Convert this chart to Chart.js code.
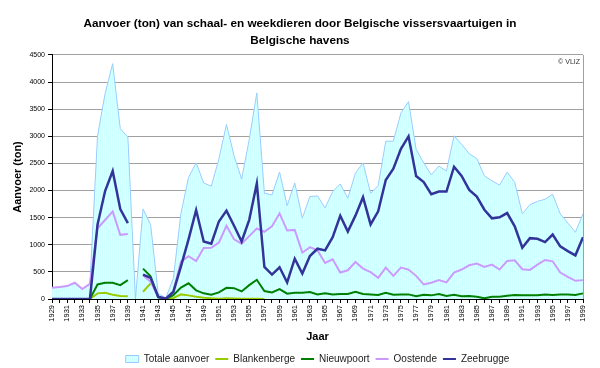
<!DOCTYPE html>
<html>
<head>
<meta charset="utf-8">
<script src="https://cdn.jsdelivr.net/npm/chart.js@4.4.1/dist/chart.umd.min.js"></script>
<style>
  html, body { margin: 0; padding: 0; background: #fff; }
  #wrap { width: 600px; height: 368px; }
</style>
</head>
<body>
<div id="wrap"><canvas id="chart" width="600" height="368"></canvas></div>
<script>
// Years 1929 - 1999
const years = [];
for (let y = 1929; y <= 1999; y++) years.push(String(y));

const totale = [
  207, 220, 238, 300, 183, 280, 3000, 3790, 4340, 3140, 2990, 0, 1660, 1370, 100, 20, 380, 1580, 2240, 2510,
  2140, 2080, 2580, 3220, 2640, 2210, 2940, 3800, 1950, 1920, 2340, 1720, 2140, 1490, 1890, 1900, 1680, 1980, 2120, 1860,
  2320, 2510, 1950, 2090, 2910, 2910, 3430, 3640, 2760, 2510, 2290, 2450, 2360, 3010, 2850, 2680, 2590, 2270, 2180, 2100,
  2340, 2150, 1570, 1740, 1800, 1840, 1930, 1570, 1400, 1230, 1570
];
const blankenberge = [
  null, null, null, null, null, 0, 104, 116, 79, 55, 49, null, 134, 287, null, 0, 20, 85, 67, 43,
  25, 12, 5, 15, 10, 5, 5, 3, 2, null, null, null, null, null, null, null, null, null, null, null,
  null, null, null, null, null, null, null, null, null, null, null, null, null, null, null, null, null, null, null, null,
  null, null, null, null, null, null, null, null, null, null, null
];
const nieuwpoort = [
  null, null, null, null, null, 0, 268, 299, 299, 256, 348, null, 560, 420, 30, 0, 70, 210, 290, 160,
  104, 80, 122, 207, 200, 140, 256, 354, 146, 122, 183, 98, 116, 116, 128, 85, 104, 85, 91, 91,
  134, 91, 85, 73, 116, 79, 85, 85, 49, 79, 67, 91, 55, 79, 49, 55, 43, 12, 43, 43,
  61, 73, 67, 67, 67, 85, 73, 85, 85, 73, 104
];
const oostende = [
  207, 220, 238, 300, 183, 280, 1305, 1457, 1616, 1183, 1200, null, 440, 317, 40, 10, 150, 690, 790, 700,
  940, 945, 1040, 1350, 1100, 1020, 1160, 1300, 1240, 1342, 1580, 1262, 1274, 854, 957, 896, 665, 732, 488, 530,
  683, 561, 495, 390, 579, 427, 579, 543, 427, 268, 299, 348, 305, 488, 543, 622, 652, 591, 634, 543,
  701, 713, 549, 537, 634, 720, 695, 488, 409, 335, 348
];
const zeebrugge = [
  0, 0, 0, 0, 0, 0, 1370, 1990, 2360, 1660, 1400, null, 450, 390, 40, 5, 130, 600, 1100, 1640,
  1060, 1020, 1430, 1630, 1350, 1060, 1460, 2130, 590, 450, 585, 305, 744, 470, 793, 927, 896, 1140, 1537, 1244,
  1537, 1878, 1375, 1616, 2195, 2402, 2768, 3000, 2268, 2158, 1933, 1982, 1982, 2439, 2268, 2012, 1890, 1646, 1488, 1506,
  1585, 1341, 945, 1122, 1110, 1049, 1189, 970, 884, 805, 1140
];

const FONT = "'Liberation Sans', Arial, sans-serif";

// striped light cyan fill like the old Excel area pattern
const pc = document.createElement('canvas');
pc.width = 2; pc.height = 1;
const pctx = pc.getContext('2d');
pctx.fillStyle = '#ccffff'; pctx.fillRect(0, 0, 2, 1);
pctx.fillStyle = '#e8ffff'; pctx.fillRect(1, 0, 1, 1);
const areaFill = pctx.createPattern(pc, 'repeat');

const plotFrame = {
  id: 'plotFrame',
  afterDraw(chart) {
    const { ctx, chartArea: a } = chart;
    ctx.save();
    ctx.strokeStyle = '#a0a0a0';
    ctx.lineWidth = 1;
    ctx.beginPath();
    ctx.moveTo(Math.round(a.right) + 0.5, a.top);
    ctx.lineTo(Math.round(a.right) + 0.5, a.bottom);
    ctx.stroke();
    ctx.fillStyle = '#333';
    ctx.font = '7px ' + FONT;
    ctx.textAlign = 'right';
    ctx.textBaseline = 'top';
    ctx.fillText('\u00A9 VLIZ', a.right - 3, a.top + 4);
    ctx.restore();
  }
};

const line = (label, data, color, width, order) => ({
  label, data, borderColor: color, backgroundColor: color, borderWidth: width,
  pointRadius: 0, tension: 0, fill: false, spanGaps: false, order,
});

new Chart(document.getElementById('chart'), {
  type: 'line',
  data: {
    labels: years,
    datasets: [
      { label: 'Totale aanvoer', data: totale, borderColor: '#99ccff', backgroundColor: areaFill,
        borderWidth: 1, pointRadius: 0, tension: 0, fill: 'origin', order: 5 },
      line('Blankenberge', blankenberge, '#99cc00', 2, 4),
      line('Nieuwpoort', nieuwpoort, '#008000', 2, 3),
      line('Oostende', oostende, '#cc99ff', 2, 2),
      line('Zeebrugge', zeebrugge, '#333399', 2.5, 1),
    ],
  },
  options: {
    responsive: false, animation: false, devicePixelRatio: 1,
    layout: { padding: { left: 0, right: 0, top: 0, bottom: -6 } },
    plugins: {
      title: {
        display: true,
        text: ['Aanvoer (ton) van schaal- en weekdieren door Belgische vissersvaartuigen in', 'Belgische havens'],
        color: '#000', font: { family: FONT, size: 11.75, weight: 'bold', lineHeight: 1.45 },
        padding: { top: 15.5, bottom: 5.4 },
      },
      legend: {
        position: 'bottom', fullSize: false,
        labels: {
          color: '#222', font: { family: FONT, size: 10 }, padding: 6,
          usePointStyle: true, pointStyleWidth: 13, boxHeight: 7,
          sort: (a, b) => a.datasetIndex - b.datasetIndex,
          generateLabels: chart => Chart.defaults.plugins.legend.labels.generateLabels(chart).map(l => {
            if (l.datasetIndex === 0) { l.pointStyle = 'rect'; l.lineWidth = 1; l.strokeStyle = '#99ccff'; }
            else { l.pointStyle = 'line'; l.lineWidth = 2; }
            return l;
          }),
        },
      },
      tooltip: { enabled: false },
    },
    scales: {
      x: {
        grid: { display: true, drawOnChartArea: false, drawTicks: true, tickLength: 4, color: '#000' },
        border: { color: '#000' },
        ticks: {
          autoSkip: false, minRotation: 90, maxRotation: 90, padding: 2, color: '#000',
          font: { family: FONT, size: 7.5 },
          callback: (v, i) => (i % 2 === 0 ? years[i] : ''),
        },
        title: { display: true, text: 'Jaar', color: '#000', font: { family: FONT, size: 11, weight: 'bold' },
          padding: { top: 0, bottom: 4 } },
        afterFit: s => { s.height = 49; },
      },
      y: {
        min: 0, max: 4500,
        grid: { color: '#a0a0a0', tickColor: '#000', tickLength: 4 },
        border: { color: '#000' },
        ticks: { stepSize: 500, padding: 3, color: '#000', font: { family: FONT, size: 7 }, callback: v => String(v) },
        title: { display: true, text: 'Aanvoer (ton)', color: '#000', font: { family: FONT, size: 11, weight: 'bold' },
          padding: { top: 11, bottom: 0 } },
        afterFit: s => { s.width = 52; },
      },
      // empty right margin so the title centres on the full width like the original
      margin: {
        position: 'right', display: true,
        grid: { display: false, drawTicks: false }, border: { display: false }, ticks: { display: false },
        afterFit: s => { s.width = 17; },
      },
    },
  },
  plugins: [plotFrame],
});
</script>
</body>
</html>
